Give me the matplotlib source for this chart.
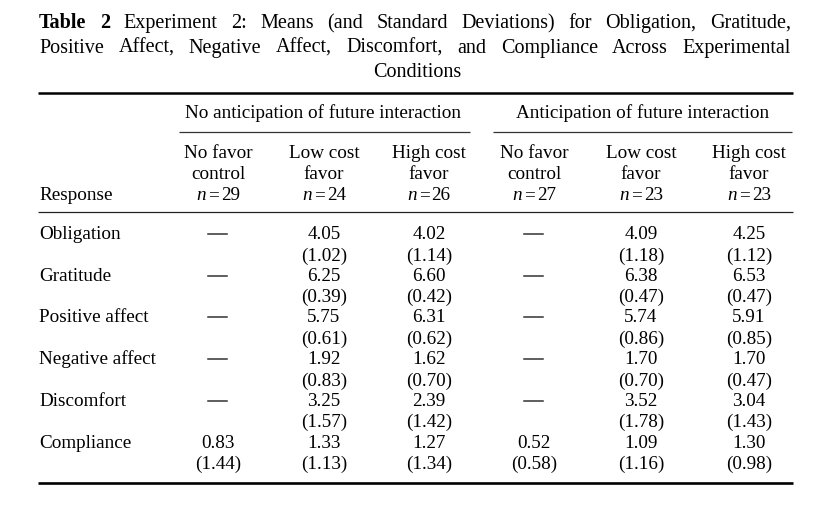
import matplotlib
matplotlib.use("Agg")
import matplotlib.pyplot as plt

W, H = 823, 509
FONT = "Liberation Serif"
FS = 13.8
TFS = 14.5

title_lines = [
    "Experiment 2: Means (and Standard Deviations) for Obligation, Gratitude,",
    "Positive Affect, Negative Affect, Discomfort, and Compliance Across Experimental",
    "Conditions",
]
groups = ["No anticipation of future interaction", "Anticipation of future interaction"]
col_heads = [
    ("No favor", "control"),
    ("Low cost", "favor"),
    ("High cost", "favor"),
    ("No favor", "control"),
    ("Low cost", "favor"),
    ("High cost", "favor"),
]
n_values = [29, 24, 26, 27, 23, 23]
responses = ["Obligation", "Gratitude", "Positive affect", "Negative affect", "Discomfort", "Compliance"]
means = [
    [None, "4.05", "4.02", None, "4.09", "4.25"],
    [None, "6.25", "6.60", None, "6.38", "6.53"],
    [None, "5.75", "6.31", None, "5.74", "5.91"],
    [None, "1.92", "1.62", None, "1.70", "1.70"],
    [None, "3.25", "2.39", None, "3.52", "3.04"],
    ["0.83", "1.33", "1.27", "0.52", "1.09", "1.30"],
]
sds = [
    [None, "1.02", "1.14", None, "1.18", "1.12"],
    [None, "0.39", "0.42", None, "0.47", "0.47"],
    [None, "0.61", "0.62", None, "0.86", "0.85"],
    [None, "0.83", "0.70", None, "0.70", "0.47"],
    [None, "1.57", "1.42", None, "1.78", "1.43"],
    ["1.44", "1.13", "1.34", "0.58", "1.16", "0.98"],
]

fig = plt.figure(figsize=(W / 100, H / 100), dpi=100)
ax = fig.add_axes([0, 0, 1, 1])
ax.set_xlim(0, W)
ax.set_ylim(H, 0)
ax.axis("off")

renderer = fig.canvas.get_renderer()

def tw(s, weight="normal", style="normal", fs=FS):
    t = ax.text(0, 0, s, fontsize=fs, family=FONT, weight=weight, style=style)
    bb = t.get_window_extent(renderer=renderer)
    t.remove()
    return bb.width

def txt(x, y, s, ha="left", fs=FS, **kw):
    ax.text(x, y, s, fontsize=fs, family=FONT, ha=ha, va="baseline", color="black", **kw)

# Title (justified)
L, R = 39, 791
title_base = [28, 53, 77]
words1 = [("Table", "bold"), ("2", "bold")] + [(w, "normal") for w in title_lines[0].split()]
words2 = [(w, "normal") for w in title_lines[1].split()]
for words, y in [(words1, title_base[0]), (words2, title_base[1])]:
    widths = [tw(w, weight=wt, fs=TFS) for w, wt in words]
    gap = (R - L - sum(widths)) / (len(words) - 1)
    x = L
    for (w, wt), wd in zip(words, widths):
        txt(x, y, w, weight=wt, fs=TFS)
        x += wd + gap
txt((L + R) / 2 + 2, title_base[2], title_lines[2], ha="center", fs=TFS)

# Rules
ax.plot([38, 793], [92.5, 92.5], color="black", lw=1.8, solid_capstyle="butt")
ax.plot([38, 793], [212, 212], color="#222222", lw=0.9, solid_capstyle="butt")
ax.plot([38, 793], [482.5, 482.5], color="black", lw=1.9, solid_capstyle="butt")
ax.plot([179, 470], [132, 132], color="#333333", lw=0.9, solid_capstyle="butt")
ax.plot([493, 792], [132, 132], color="#333333", lw=0.9, solid_capstyle="butt")

# Group headers
txt(323, 118, groups[0], ha="center")
txt(642.5, 118, groups[1], ha="center")

col_x = [218, 324, 429, 534, 641, 749]
hdr_base = [158, 179, 200]
for cx, (a, b), nv in zip(col_x, col_heads, n_values):
    txt(cx, hdr_base[0], a, ha="center")
    txt(cx, hdr_base[1], b, ha="center")
    w1 = tw("n", style="italic")
    w2 = tw("=")
    w3 = tw(str(nv))
    sp = 2.0
    total = w1 + w2 + w3 + 2 * sp
    x0 = cx - total / 2
    txt(x0, hdr_base[2], "n", style="italic")
    txt(x0 + w1 + sp, hdr_base[2], "=")
    txt(x0 + w1 + w2 + 2 * sp, hdr_base[2], str(nv))
txt(39, hdr_base[2], "Response")

row0 = 239
dy = 41.7
for i, r in enumerate(responses):
    y = row0 + i * dy
    txt(39, y, r)
    for j, cx in enumerate(col_x):
        m = means[i][j]
        if m is None:
            ax.plot([cx - 9.5, cx + 9.5], [y - 5, y - 5], color="#333333", lw=1.1)
        else:
            txt(cx, y, m, ha="center")
            txt(cx, y + 21.5, "(" + sds[i][j] + ")", ha="center")

fig.savefig("out.png", dpi=100)
